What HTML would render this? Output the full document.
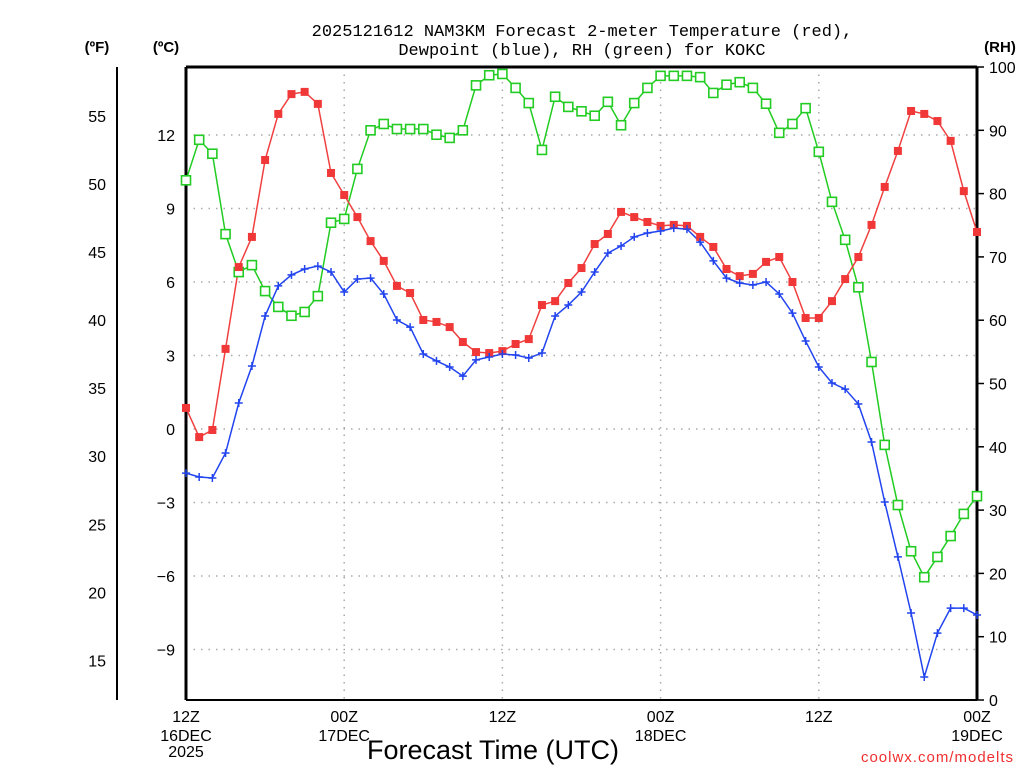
<!DOCTYPE html>
<html><head><meta charset="utf-8"><style>
body{margin:0;background:#fff;}
svg{display:block;font-family:"Liberation Sans",sans-serif;}
</style></head><body>
<svg id="chart" width="1024" height="768" viewBox="0 0 1024 768" xmlns="http://www.w3.org/2000/svg">
<rect width="1024" height="768" fill="#fff"/>
<text x="582" y="36" font-size="17" font-family="Liberation Mono, monospace" text-anchor="middle">2025121612 NAM3KM Forecast 2-meter Temperature (red),</text>
<text x="582" y="55" font-size="17" font-family="Liberation Mono, monospace" text-anchor="middle">Dewpoint (blue), RH (green) for KOKC</text>
<text x="97" y="52" font-size="15" font-weight="bold" text-anchor="middle">(ºF)</text>
<text x="166" y="52" font-size="15" font-weight="bold" text-anchor="middle">(ºC)</text>
<text x="1000" y="52" font-size="15" font-weight="bold" text-anchor="middle">(RH)</text>
<text x="493" y="759" font-size="27" text-anchor="middle">Forecast Time (UTC)</text>
<text x="1014" y="762" font-size="15" fill="#f03030" text-anchor="end" letter-spacing="1">coolwx.com/modelts</text>
<g id="grid"></g><g id="axes"></g><g id="series"></g>
</svg>
<script>
const hours = [0,1,2,3,4,5,6,7,8,9,10,11,12,13,14,15,16,17,18,19,20,21,22,23,24,25,26,27,28,29,30,31,32,33,34,35,36,37,38,39,40,41,42,43,44,45,46,47,48,49,50,51,52,53,54,55,56,57,58,59,60];
const tempC = [0.86,-0.33,-0.04,3.27,6.61,7.84,10.98,12.86,13.67,13.76,13.27,10.45,9.55,8.65,7.67,6.86,5.84,5.55,4.45,4.37,4.16,3.55,3.14,3.10,3.18,3.47,3.67,5.06,5.22,5.96,6.57,7.55,7.96,8.86,8.65,8.45,8.29,8.33,8.29,7.84,7.43,6.53,6.24,6.33,6.82,7.02,6.0,4.53,4.53,5.22,6.12,7.02,8.33,9.88,11.35,12.98,12.86,12.57,11.76,9.71,8.04];
const dewC = [-1.80,-1.96,-2.0,-0.98,1.06,2.57,4.61,5.84,6.29,6.53,6.65,6.41,5.59,6.12,6.16,5.51,4.45,4.16,3.06,2.78,2.53,2.16,2.82,2.94,3.06,3.02,2.90,3.10,4.61,5.06,5.59,6.41,7.18,7.47,7.84,8.0,8.08,8.20,8.16,7.63,6.86,6.16,5.96,5.88,6.0,5.51,4.73,3.59,2.53,1.88,1.63,1.02,-0.53,-2.98,-5.22,-7.51,-10.12,-8.33,-7.31,-7.31,-7.59];
const rh = [82.1,88.5,86.3,73.6,67.6,68.7,64.6,62.1,60.7,61.3,63.8,75.4,76.0,83.9,90.0,91.0,90.2,90.2,90.2,89.3,88.8,90.0,97.1,98.7,98.9,96.7,94.3,86.9,95.3,93.7,93.0,92.3,94.5,90.8,94.3,96.7,98.6,98.6,98.6,98.4,95.9,97.2,97.6,96.7,94.2,89.6,91.0,93.5,86.6,78.7,72.7,65.2,53.4,40.3,30.8,23.5,19.4,22.6,25.9,29.4,32.2];
const cTicks = [-9,-6,-3,0,3,6,9,12];
const cTickLabels = ["\u22129","\u22126","\u22123","0","3","6","9","12"];
const fTicks = [15,20,25,30,35,40,45,50,55];
const rhTicks = [0,10,20,30,40,50,60,70,80,90,100];
const xTickHours = [0,12,24,36,48,60];
const xTickLine1 = ["12Z","00Z","12Z","00Z","12Z","00Z"];
const xTickLine2 = ["16DEC","17DEC","","18DEC","","19DEC"];
const xTickLine3 = ["2025","","","","",""];

const L=186,R=977,T=67,B=700;
const xs=h=>L+h*(R-L)/60;
const yC=c=>429-c*24.5;
const yF=f=>yC((f-32)*5/9);
const yRH=v=>B-v*(B-T)/100;
const NS="http://www.w3.org/2000/svg";
function mk(tag,attrs,parent,txt){const e=document.createElementNS(NS,tag);for(const k in attrs)e.setAttribute(k,attrs[k]);if(txt!==undefined)e.textContent=txt;parent.appendChild(e);return e;}
const grid=document.getElementById('grid'),axes=document.getElementById('axes'),ser=document.getElementById('series');

cTicks.forEach((c,i)=>{
  const g=mk('line',{x1:L,x2:R,y1:yC(c),y2:yC(c),stroke:'#aaa','stroke-width':1.5,'stroke-dasharray':'1.5 6'},grid);
  
  
  const t=mk('text',{x:175,y:yC(c)+6,'font-size':16,'text-anchor':'end'},axes,cTickLabels[i]);
  
  
});
xTickHours.forEach((h,i)=>{
  if(h>0&&h<60){const g=mk('line',{x1:xs(h),x2:xs(h),y1:T,y2:B,stroke:'#aaa','stroke-width':1.5,'stroke-dasharray':'1.5 6'},grid);
  
  }
  const a=mk('text',{x:xs(h),y:722,'font-size':16,'text-anchor':'middle'},axes,xTickLine1[i]);
  
  
  if(xTickLine2[i]){const b=mk('text',{x:xs(h),y:741,'font-size':16,'text-anchor':'middle'},axes,xTickLine2[i]);
  
  }
  if(xTickLine3[i]){const c=mk('text',{x:xs(h),y:757,'font-size':16,'text-anchor':'middle'},axes,xTickLine3[i]);
  
  }
});
fTicks.forEach(f=>{
  const t=mk('text',{x:106,y:yF(f)+6,'font-size':16,'text-anchor':'end'},axes,String(f));
  
  
});
rhTicks.forEach(v=>{
  mk('line',{x1:R,x2:R+7,y1:yRH(v),y2:yRH(v),stroke:'#000','stroke-width':1.5},axes);
  const t=mk('text',{x:989,y:yRH(v)+6,'font-size':16},axes,String(v));
  
  
});
mk('line',{x1:117,x2:117,y1:67,y2:700,stroke:'#000','stroke-width':2},axes);
mk('line',{x1:L,x2:R,y1:T,y2:T,stroke:'#000','stroke-width':3},axes);
mk('line',{x1:L,x2:L,y1:T,y2:B,stroke:'#000','stroke-width':3},axes);
mk('line',{x1:L,x2:R,y1:B,y2:B,stroke:'#000','stroke-width':2},axes);
mk('line',{x1:R,x2:R,y1:T,y2:B,stroke:'#000','stroke-width':3},axes);

function line(vals,yf,col,name){
  const p=mk('polyline',{points:vals.map((v,i)=>xs(hours[i])+','+yf(v)).join(' '),fill:'none',stroke:col,'stroke-width':1.5},ser);
  
  
}
line(rh,yRH,'#22cc22','rh-line');
line(tempC,yC,'#f04040','temperature-line');
line(dewC,yC,'#2244ee','dewpoint-line');
rh.forEach((v,i)=>{const m=mk('rect',{x:xs(hours[i])-4.5,y:yRH(v)-4.5,width:9,height:9,fill:'#fff',stroke:'#22cc22','stroke-width':1.6},ser);
  
  });
tempC.forEach((v,i)=>{const m=mk('rect',{x:xs(hours[i])-4,y:yC(v)-4,width:8,height:8,fill:'#f03838'},ser);
  
  });
dewC.forEach((v,i)=>{const x=xs(hours[i]),y=yC(v);
  const m=mk('path',{d:`M${x-4},${y}H${x+4}M${x},${y-4}V${y+4}`,stroke:'#2244ee','stroke-width':1.5},ser);
  
  });
</script>
</body></html>
